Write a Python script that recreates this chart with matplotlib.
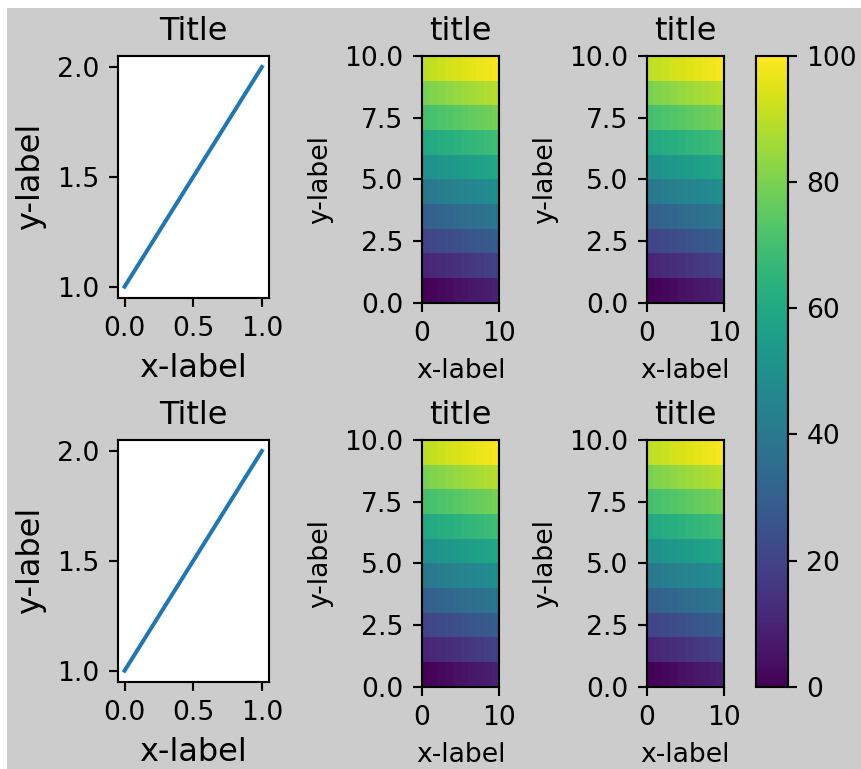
import numpy as np
import matplotlib
matplotlib.use('Agg')
import matplotlib.pyplot as plt
import matplotlib.colors as mcolors
from matplotlib.patches import Rectangle

# data
line_y = [1, 2]
cells = np.array([
    [0, 1, 2, 3, 4, 5, 6, 7, 8, 9],
    [10, 11, 12, 13, 14, 15, 16, 17, 18, 19],
    [20, 21, 22, 23, 24, 25, 26, 27, 28, 29],
    [30, 31, 32, 33, 34, 35, 36, 37, 38, 39],
    [40, 41, 42, 43, 44, 45, 46, 47, 48, 49],
    [50, 51, 52, 53, 54, 55, 56, 57, 58, 59],
    [60, 61, 62, 63, 64, 65, 66, 67, 68, 69],
    [70, 71, 72, 73, 74, 75, 76, 77, 78, 79],
    [80, 81, 82, 83, 84, 85, 86, 87, 88, 89],
    [90, 91, 92, 93, 94, 95, 96, 97, 98, 99],
])
cmin, cmax = 0., 100.

dpi = 192
W, H = 861, 769          # output image, px
fw, fh = 4.48, 4.0       # grey figure, inches (cropped a little at right/bottom)
off_x, off_top = 7, 8    # white border left / top, px
gw, gh = fw * dpi, fh * dpi
shift_y = H - off_top - gh   # bottom of grey figure in output px (negative = cropped)

fig = plt.figure(figsize=(fw, fh), dpi=dpi, layout='constrained')
sfigs = fig.subfigures(1, 2, width_ratios=[1, 2])

axs_left = sfigs[0].subplots(2, 1)
for ax in axs_left:
    ax.plot(line_y)
    ax.locator_params(nbins=3)
    ax.set_xlabel('x-label', fontsize=12)
    ax.set_ylabel('y-label', fontsize=12)
    ax.set_title('Title', fontsize=12)

norm = mcolors.Normalize(vmin=cmin, vmax=cmax)
axs_right = sfigs[1].subplots(2, 2)
for ax in axs_right.flat:
    pcm = ax.pcolormesh(cells, cmap='viridis', norm=norm)
    ax.set_xlabel('x-label')
    ax.set_ylabel('y-label')
    ax.set_title('title')
fig.colorbar(pcm, ax=axs_right)

# run the layout once, then freeze it and move it onto the bordered canvas
fig.canvas.draw()
fig.set_layout_engine('none')
fig.set_size_inches(W / dpi, H / dpi)
for sf in sfigs:
    (x0, y0), (x1, y1) = sf.bbox_relative.get_points()
    sf.bbox_relative.set_points(np.array([
        [(off_x + x0 * gw) / W, (shift_y + y0 * gh) / H],
        [(off_x + x1 * gw) / W, (shift_y + y1 * gh) / H]]))

fig.patch.set_facecolor('white')
fig.add_artist(Rectangle((off_x / W, shift_y / H), gw / W, gh / H, transform=fig.transFigure,
                         facecolor='0.8', edgecolor='none', zorder=-10))

fig.savefig('out.png', dpi=dpi)
